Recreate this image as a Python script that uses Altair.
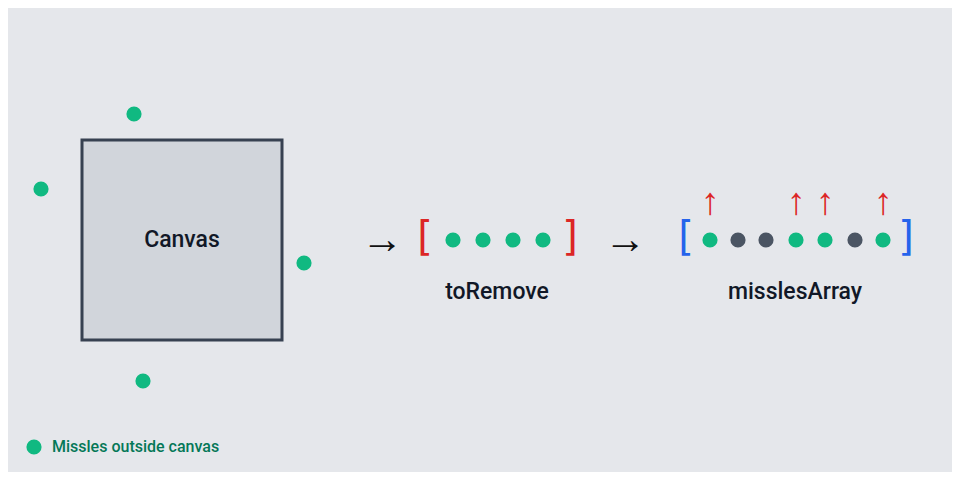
import altair as alt
import pandas as pd

# diagram coordinates in screen pixels
outside_x = [134, 41, 304, 143]
outside_y = [114, 189, 263, 381]

remove_x = [453, 483, 513, 543]
array_x = [710, 738, 766, 796, 825, 855, 883]
array_kind = ["out", "in", "in", "out", "out", "in", "out"]
up_x = [710, 796, 825, 883]

labels = ["Canvas", "toRemove", "misslesArray"]
label_x = [182, 497, 795]
label_y = [240, 292, 292]

GREEN = "#10b981"
GRAY = "#4b5563"
RED = "#dc2626"
BLUE = "#2563eb"

xs = alt.Scale(domain=[8, 952])
ys = alt.Scale(domain=[8, 472], reverse=True)
X = lambda f: alt.X(f, scale=xs, axis=None)
Y = lambda f: alt.Y(f, scale=ys, axis=None)

canvas = alt.Chart(pd.DataFrame({"x": [82], "x2": [282], "y": [140], "y2": [340]})).mark_rect(
    fill="#d1d5db", stroke="#374151", strokeWidth=3
).encode(x=X("x:Q"), x2="x2", y=Y("y:Q"), y2="y2")

outside = alt.Chart(pd.DataFrame({"x": outside_x, "y": outside_y})).mark_circle(
    size=230, color=GREEN, opacity=1
).encode(x=X("x:Q"), y=Y("y:Q"))

row = pd.DataFrame({"x": remove_x + array_x,
                    "kind": ["out"] * len(remove_x) + array_kind})
row["y"] = 240
dots = alt.Chart(row).mark_circle(size=230, opacity=1).encode(
    x=X("x:Q"), y=Y("y:Q"),
    color=alt.Color("kind:N", scale=alt.Scale(domain=["out", "in"], range=[GREEN, GRAY]), legend=None)
)

brackets = pd.DataFrame({"x": [425, 570, 686, 906], "t": ["[", "]", "[", "]"],
                         "c": [RED, RED, BLUE, BLUE]})
brackets["y"] = 238
br = alt.Chart(brackets).mark_text(fontSize=40, font="DejaVu Sans", baseline="middle").encode(
    x=X("x:Q"), y=Y("y:Q"), text="t:N", color=alt.Color("c:N", scale=None)
)

arrows = alt.Chart(pd.DataFrame({"x": [382, 625], "y": [240, 240]})).mark_text(
    text="→", fontSize=42, font="Noto Sans", color="#111111", baseline="middle"
).encode(x=X("x:Q"), y=Y("y:Q"))

ups = alt.Chart(pd.DataFrame({"x": up_x, "y": [203] * len(up_x)})).mark_text(
    text="↑", fontSize=38, font="Noto Sans", color=RED, baseline="middle"
).encode(x=X("x:Q"), y=Y("y:Q"))

text = alt.Chart(pd.DataFrame({"x": label_x, "y": label_y, "t": labels})).mark_text(
    fontSize=23, font="Roboto", fontWeight=500, color="#111827", baseline="middle"
).encode(x=X("x:Q"), y=Y("y:Q"), text="t:N")

leg_dot = alt.Chart(pd.DataFrame({"x": [34], "y": [447]})).mark_circle(
    size=230, color=GREEN, opacity=1
).encode(x=X("x:Q"), y=Y("y:Q"))
leg_text = alt.Chart(pd.DataFrame({"x": [52], "y": [447], "t": ["Missles outside canvas"]})).mark_text(
    fontSize=16, font="Roboto", fontWeight=500, color="#047857", align="left", baseline="middle"
).encode(x=X("x:Q"), y=Y("y:Q"), text="t:N")

chart = alt.layer(canvas, outside, dots, br, arrows, ups, text, leg_dot, leg_text).properties(
    width=944, height=464, padding=0, background="#e5e7eb"
).configure_view(stroke=None)

chart.save("out.html", embed_options={"renderer": "svg", "actions": False})
